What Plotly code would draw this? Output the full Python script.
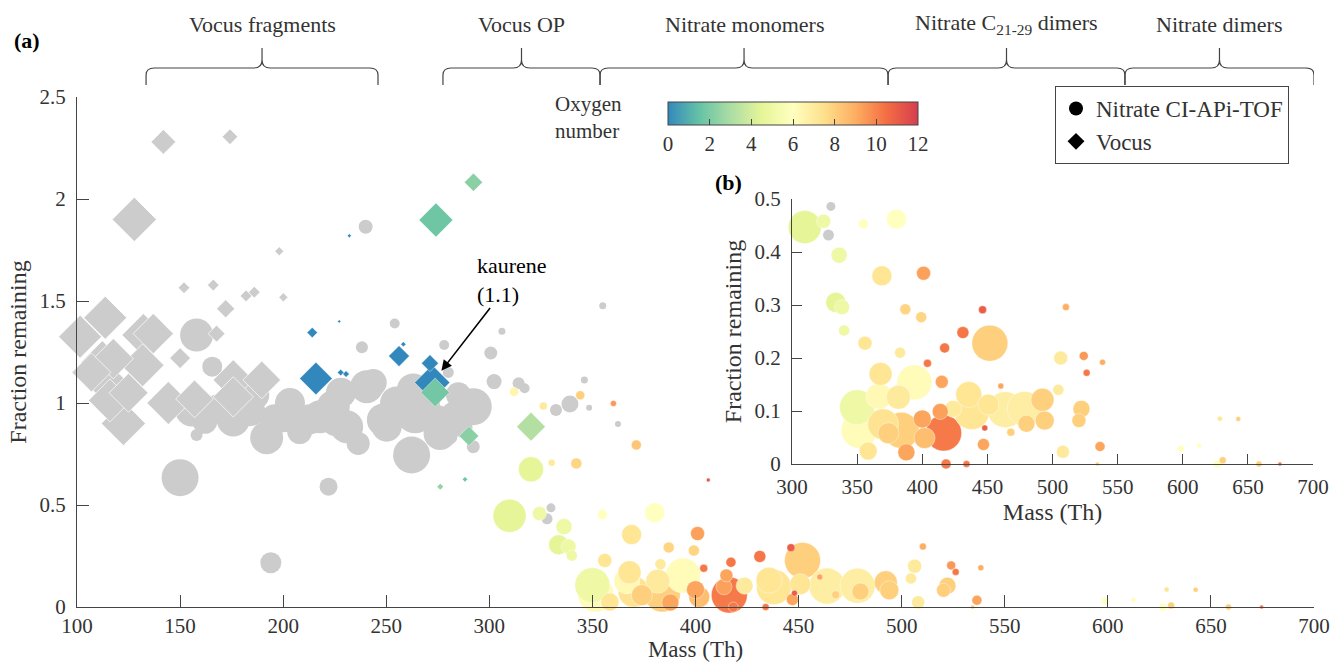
import plotly.graph_objects as go

FONT = "Liberation Serif"
INK = "#333333"
GRAY = "#cccccc"

# ---------------- data ----------------
# Nitrate CI-APi-TOF ions: mass (Th), fraction remaining, oxygen number (None = unassigned), relative signal
nitrate_mass = [
    150.0, 194.0, 222.0, 158.0, 165.6, 240.0, 254.1, 238.2, 278.1, 280.1, 300.7, 306.1,
    355.0, 302.3, 314.2, 317.1, 332.3, 339.1, 346.1, 348.4, 362.4, 292.2, 329.9, 328.0,
    158.0, 155.6, 175.8, 192.0, 203.3, 217.9, 213.0, 224.3, 230.8, 236.4, 240.5, 243.7,
    248.6, 250.2, 262.3, 263.1, 264.0, 274.4, 276.1, 282.5, 292.2, 280.9, 237.3, 184.0,
    168.0, 196.0, 208.0, 255.0, 225.0, 270.0, 287.0, 186.0, 228.0, 285.0, 162.0, 200.0,
    312.0, 326.2, 344.1, 360.2, 371.3, 320.2, 330.2, 342.2, 406.2,
    309.8, 324.3, 354.8, 380.2, 336.2, 369.0, 401.0, 333.6, 338.4, 387.0, 399.2, 446.3,
    510.3, 340.0, 356.0, 383.0, 431.2, 451.9, 417.2, 404.0, 506.3, 524.0, 538.4, 526.2,
    368.0, 394.0, 415.0, 460.3, 504.5, 350.0, 366.7, 381.7, 435.7, 492.3, 522.2, 351.6,
    370.0, 383.9, 374.0, 400.0, 401.8, 413.8, 416.4, 423.8, 438.0, 463.8, 478.6, 450.8,
    480.0, 494.0, 468.0, 448.0, 520.3, 447.0, 358.5, 387.8, 508.0, 536.5, 418.3, 434.0,
    534.4, 598.4, 612.4, 628.5, 642.6, 630.7, 626.7, 658.5, 674.6,
]
nitrate_frac = [
    0.634, 0.217, 0.590, 1.333, 1.178, 1.864, 1.390, 1.273, 1.284, 1.150, 1.245, 1.352,
    1.477, 1.105, 1.097, 1.072, 0.966, 0.995, 1.113, 0.977, 0.897, 0.786, 0.486, 0.432,
    0.843, 0.966, 0.917, 0.830, 1.000, 0.933, 0.920, 0.982, 0.884, 0.802, 1.080, 1.100,
    0.917, 0.884, 0.745, 1.064, 0.950, 0.917, 0.851, 0.950, 0.982, 0.835, 1.104, 0.960,
    0.980, 0.920, 0.860, 1.000, 0.900, 1.000, 0.880, 1.040, 1.050, 1.040, 0.910, 0.930,
    1.055, 0.985, 1.038, 0.998, 0.794, 0.675, 0.707, 0.704, 0.623,
    0.447, 0.458, 0.453, 0.462, 0.394, 0.355, 0.360, 0.305, 0.296, 0.292, 0.277, 0.291,
    0.296, 0.252, 0.228, 0.210, 0.248, 0.228, 0.219, 0.190, 0.200, 0.204, 0.192, 0.172,
    0.170, 0.154, 0.155, 0.147, 0.140, 0.107, 0.128, 0.126, 0.131, 0.121, 0.104, 0.0635,
    0.075, 0.0635, 0.058, 0.085, 0.049, 0.099, 0.0585, 0.104, 0.098, 0.1025, 0.104, 0.112,
    0.076, 0.082, 0.060, 0.068, 0.082, 0.037, 0.0245, 0.022, 0.023, 0.033, 0.0, 0.0,
    0.0, 0.029, 0.035, 0.0855, 0.085, 0.007, 0.0, 0.0, 0.0,
]
nitrate_oxygen = [None] * 60 + [
    6.5, 7.0, 8.0, 9.5, 8.3, 4.5, 7.0, 7.8, 11.0,
    4.5, 5.0, 6.0, 6.0, 5.0, 7.2, 9.3, 4.5, 5.0, 7.8, 7.8, 11.0,
    9.0, 5.0, 7.2, 7.0, 10.3, 8.0, 10.3, 10.3, 7.0, 9.5, 9.0, 10.3,
    7.2, 6.2, 9.2, 9.2, 7.0, 5.0, 6.3, 7.0, 7.2, 8.0, 8.0, 6.2,
    7.3, 8.0, 8.0, 9.2, 8.5, 9.3, 10.2, 7.0, 7.2, 6.8, 6.8, 7.2,
    8.0, 8.0, 8.0, 11.0, 8.0, 9.2, 7.2, 9.2, 7.0, 9.2, 10.2, 10.2,
    8.0, 6.0, 6.0, 7.2, 8.0, 8.0, 6.0, 8.0, 10.3,
]
nitrate_signal = [
    37, 21, 18, 33, 20, 14, 10, 12, 10, 11, 13, 7,
    7, 15, 12, 10, 12, 17, 7, 6, 6, 13, 9, 11,
    12, 33, 33, 33, 30, 33, 30, 33, 33, 23, 33, 27,
    33, 30, 37, 33, 40, 30, 33, 23, 37, 15, 12, 30,
    25, 30, 25, 33, 25, 25, 20, 30, 30, 25, 25, 30,
    9, 8, 9, 6, 10, 25, 7, 11, 4,
    33, 14, 10, 20, 16, 20, 14, 20, 15, 11, 11, 8,
    7, 11, 14, 11, 12, 36, 10, 8, 14, 9, 6, 7,
    23, 35, 13, 6, 11, 35, 26, 24, 26, 23, 17, 36,
    31, 36, 21, 18, 21, 16, 36, 17, 35, 36, 35, 21,
    17, 19, 8, 6, 14, 12, 18, 17, 13, 10, 10, 7,
    4, 7, 5, 5, 5, 7, 8, 6, 4,
]

# Vocus ions: mass (Th), fraction remaining, oxygen number (None = fragment), relative signal
vocus_mass = [
    101.5, 113.7, 132.2, 137.0, 112.3, 117.6, 131.8, 114.4, 116.0, 122.5, 150.0, 167.7,
    172.1, 151.9, 166.1, 182.0, 186.0, 200.1, 198.1, 127.8, 141.9, 174.2, 144.3, 175.8,
    189.6, 175.8, 157.0, 107.0, 125.0,
    232.1, 214.1, 227.2, 256.2, 258.3, 271.2, 215.9, 227.9, 230.5, 272.3, 273.7, 274.1,
    292.3, 290.1, 320.2, 288.2, 276.2,
]
vocus_frac = [
    1.325, 1.418, 1.333, 1.340, 1.200, 1.217, 1.185, 1.100, 1.013, 0.900, 1.220, 1.340,
    1.462, 1.565, 1.578, 1.525, 1.543, 1.518, 1.744, 1.900, 2.280, 2.305, 1.000, 1.113,
    1.113, 1.030, 1.020, 1.150, 1.050,
    1.820, 1.345, 1.400, 1.230, 1.288, 1.195, 1.120, 1.149, 1.142, 1.1, 1.052, 1.897,
    2.082, 0.838, 0.884, 0.626, 0.590,
]
vocus_oxygen = [None] * 29 + [
    0, 0, 0, 0, 0, 0, 0, 0, 0, 0, 1.8, 1.7,
    2.3, 2.3, 3.2, 1.6, 2.5,
]
vocus_signal = [
    33, 33, 33, 31, 33, 31, 33, 33, 33, 34, 16, 13,
    14, 9, 9, 9, 9, 7, 7, 34, 19, 12, 33, 31,
    29, 31, 29, 30, 30,
    3, 8, 2.5, 16, 4, 13, 25, 5, 5, 27, 22, 26,
    14, 15, 22, 4, 5,
]

kaurene_mass = 272.3
kaurene_frac = 1.1

# Compound classes shown with braces above the panel
group_names = ["Vocus fragments", "Vocus OP", "Nitrate monomers",
               "Nitrate C<sub>21-29</sub> dimers", "Nitrate dimers"]
group_lo = [133.5, 277.5, 353.7, 493.4, 608.3]
group_hi = [246.0, 353.7, 493.4, 608.3, 700.0]

oxygen_ticks = [0, 2, 4, 6, 8, 10, 12]

# ColorBrewer Spectral (9 class), blue -> red
spectral = ["#3288bd", "#66c2a5", "#abdda4", "#e6f598", "#ffffbf",
            "#fee08b", "#fdae61", "#f46d43", "#d53e4f"]
colorscale = [[i / (len(spectral) - 1), c] for i, c in enumerate(spectral)]


def split(mass, frac, oxy, sig, keep=lambda m, f: True):
    gray, col = [], []
    for m, f, o, s in zip(mass, frac, oxy, sig):
        if not keep(m, f):
            continue
        (gray if o is None else col).append((m, f, o, s))
    # big markers first so small ones stay visible
    gray.sort(key=lambda r: -r[3])
    col.sort(key=lambda r: -r[3])
    return gray, col


def cols(rows, i):
    return [r[i] for r in rows]


fig = go.Figure()


def add_group(rows_gray, rows_col, symbol, xa, ya, show_scale):
    gray_edge = dict(color="white", width=0.7) if symbol == "diamond" else dict(width=0)
    if rows_gray:
        fig.add_trace(go.Scatter(
            x=cols(rows_gray, 0), y=cols(rows_gray, 1), mode="markers",
            xaxis=xa, yaxis=ya, showlegend=False, cliponaxis=False, hoverinfo="skip",
            marker=dict(symbol=symbol, size=cols(rows_gray, 3), sizemode="diameter",
                        sizeref=1, color=GRAY, opacity=1, line=gray_edge)))
    if rows_col:
        marker = dict(symbol=symbol, size=cols(rows_col, 3), sizemode="diameter",
                      sizeref=1, color=cols(rows_col, 2), colorscale=colorscale,
                      cmin=0, cmax=12, opacity=1,
                      line=dict(color="rgba(255,255,255,0.8)", width=0.5),
                      showscale=show_scale)
        if show_scale:
            marker["colorbar"] = dict(
                orientation="h", x=793 / 1333, xanchor="center",
                y=(662 - 102) / 662, yanchor="top", len=250, lenmode="pixels",
                thickness=23, thicknessmode="pixels", xpad=0, ypad=0,
                outlinecolor="#444", outlinewidth=1,
                tickvals=oxygen_ticks, ticks="inside", ticklen=6, tickcolor="#444",
                tickfont=dict(family=FONT, size=21, color=INK))
        fig.add_trace(go.Scatter(
            x=cols(rows_col, 0), y=cols(rows_col, 1), mode="markers",
            xaxis=xa, yaxis=ya, showlegend=False, cliponaxis=False, hoverinfo="skip",
            marker=marker))


# main panel (a)
ng, nc = split(nitrate_mass, nitrate_frac, nitrate_oxygen, nitrate_signal)
vg, vc = split(vocus_mass, vocus_frac, vocus_oxygen, vocus_signal)
add_group(ng, nc, "circle", "x", "y", True)
add_group(vg, vc, "diamond", "x", "y", False)

# inset panel (b): nitrate ions with low fraction remaining
ig, ic = split(nitrate_mass, nitrate_frac, nitrate_oxygen, nitrate_signal,
               keep=lambda m, f: m >= 300 and f <= 0.5)
add_group(ig, ic, "circle", "x2", "y2", False)

# legend entries
fig.add_trace(go.Scatter(x=[None], y=[None], mode="markers", name="Nitrate CI-APi-TOF",
                         marker=dict(symbol="circle", size=14, color="black")))
fig.add_trace(go.Scatter(x=[None], y=[None], mode="markers", name="Vocus",
                         marker=dict(symbol="diamond", size=13, color="black")))

axis_common = dict(
    showline=True, linecolor="#444", linewidth=1, ticks="inside", tickcolor="#444",
    tickwidth=1, showgrid=False, zeroline=False, automargin=False,
    tickfont=dict(family=FONT, size=21, color=INK),
)
title_font = dict(family=FONT, size=24, color=INK)

fig.update_layout(
    width=1333, height=662,
    margin=dict(l=0, r=0, t=0, b=0),
    paper_bgcolor="white", plot_bgcolor="rgba(0,0,0,0)",
    font=dict(family=FONT, color=INK),
    xaxis=dict(domain=[77 / 1333, 1314 / 1333], range=[100, 700], tick0=100, dtick=50,
               ticklen=12, ticklabelstandoff=0,
               title=dict(text="Mass (Th)", font=dict(family=FONT, size=23, color=INK),
                          standoff=6),
               **axis_common),
    yaxis=dict(domain=[55 / 662, 565 / 662], range=[0, 2.5], tick0=0, dtick=0.5,
               ticklen=12, ticklabelstandoff=6,
               title=dict(text="Fraction remaining", font=title_font, standoff=6),
               **axis_common),
    xaxis2=dict(domain=[792 / 1333, 1313 / 1333], range=[300, 700], tick0=300, dtick=50,
                anchor="y2", ticklen=10, ticklabelstandoff=4,
                title=dict(text="Mass (Th)", font=title_font, standoff=0),
                **axis_common),
    yaxis2=dict(domain=[198 / 662, 463 / 662], range=[0, 0.5], tick0=0, dtick=0.1,
                anchor="x2", ticklen=10, ticklabelstandoff=6,
                title=dict(text="Fraction remaining", font=title_font, standoff=6),
                **axis_common),
    legend=dict(x=1055 / 1333, y=(662 - 86) / 662, xanchor="left", yanchor="top",
                bordercolor="#444", borderwidth=1, bgcolor="white",
                font=dict(family=FONT, size=23, color=INK), itemsizing="trace",
                entrywidth=228, entrywidthmode="pixels", tracegroupgap=4),
    showlegend=True,
)

# braces marking compound classes
Y_END, Y_BEND, Y_BAR, Y_CUSP, Y_TIP = [(662 - v) / 662 for v in (85, 75, 68, 60, 48)]
R = 4.0
for name, lo, hi in zip(group_names, group_lo, group_hi):
    mid = (lo + hi) / 2
    path = (f"M{lo},{Y_END} L{lo},{Y_BEND} Q{lo},{Y_BAR} {lo + R},{Y_BAR} "
            f"L{mid - R},{Y_BAR} Q{mid},{Y_BAR} {mid},{Y_CUSP} L{mid},{Y_TIP} "
            f"M{mid},{Y_CUSP} Q{mid},{Y_BAR} {mid + R},{Y_BAR} "
            f"L{hi - R},{Y_BAR} Q{hi},{Y_BAR} {hi},{Y_BEND} L{hi},{Y_END}")
    fig.add_shape(type="path", path=path, xref="x", yref="paper",
                  line=dict(color="#444", width=1.2))
    fig.add_annotation(x=mid, y=(662 - 24) / 662, xref="x", yref="paper", text=name,
                       xanchor="center", yanchor="middle", showarrow=False,
                       font=dict(family=FONT, size=22, color=INK))

# panel labels and colour bar title
fig.add_annotation(x=27 / 1333, y=(662 - 40) / 662, xref="paper", yref="paper",
                   xanchor="center", yanchor="middle",
                   text="<b>(a)</b>", showarrow=False, font=dict(family=FONT, size=22, color="black"))
fig.add_annotation(x=728 / 1333, y=(662 - 183) / 662, xref="paper", yref="paper",
                   xanchor="center", yanchor="middle",
                   text="<b>(b)</b>", showarrow=False, font=dict(family=FONT, size=22, color="black"))
fig.add_annotation(x=553 / 1333, y=(662 - 118) / 662, xref="paper", yref="paper",
                   xanchor="left", yanchor="middle", align="left",
                   text="Oxygen<br>number", showarrow=False,
                   font=dict(family=FONT, size=21, color=INK))

# kaurene call-out: label sits at the arrow tail
fig.add_annotation(x=kaurene_mass, y=kaurene_frac, xref="x", yref="y",
                   text=f"kaurene<br>({kaurene_frac})", align="left",
                   showarrow=True, ax=80, ay=-103, arrowhead=2, arrowsize=1.3,
                   arrowwidth=1.6, arrowcolor="black", standoff=15,
                   font=dict(family=FONT, size=22, color="black"))

fig.write_html("out.html")
